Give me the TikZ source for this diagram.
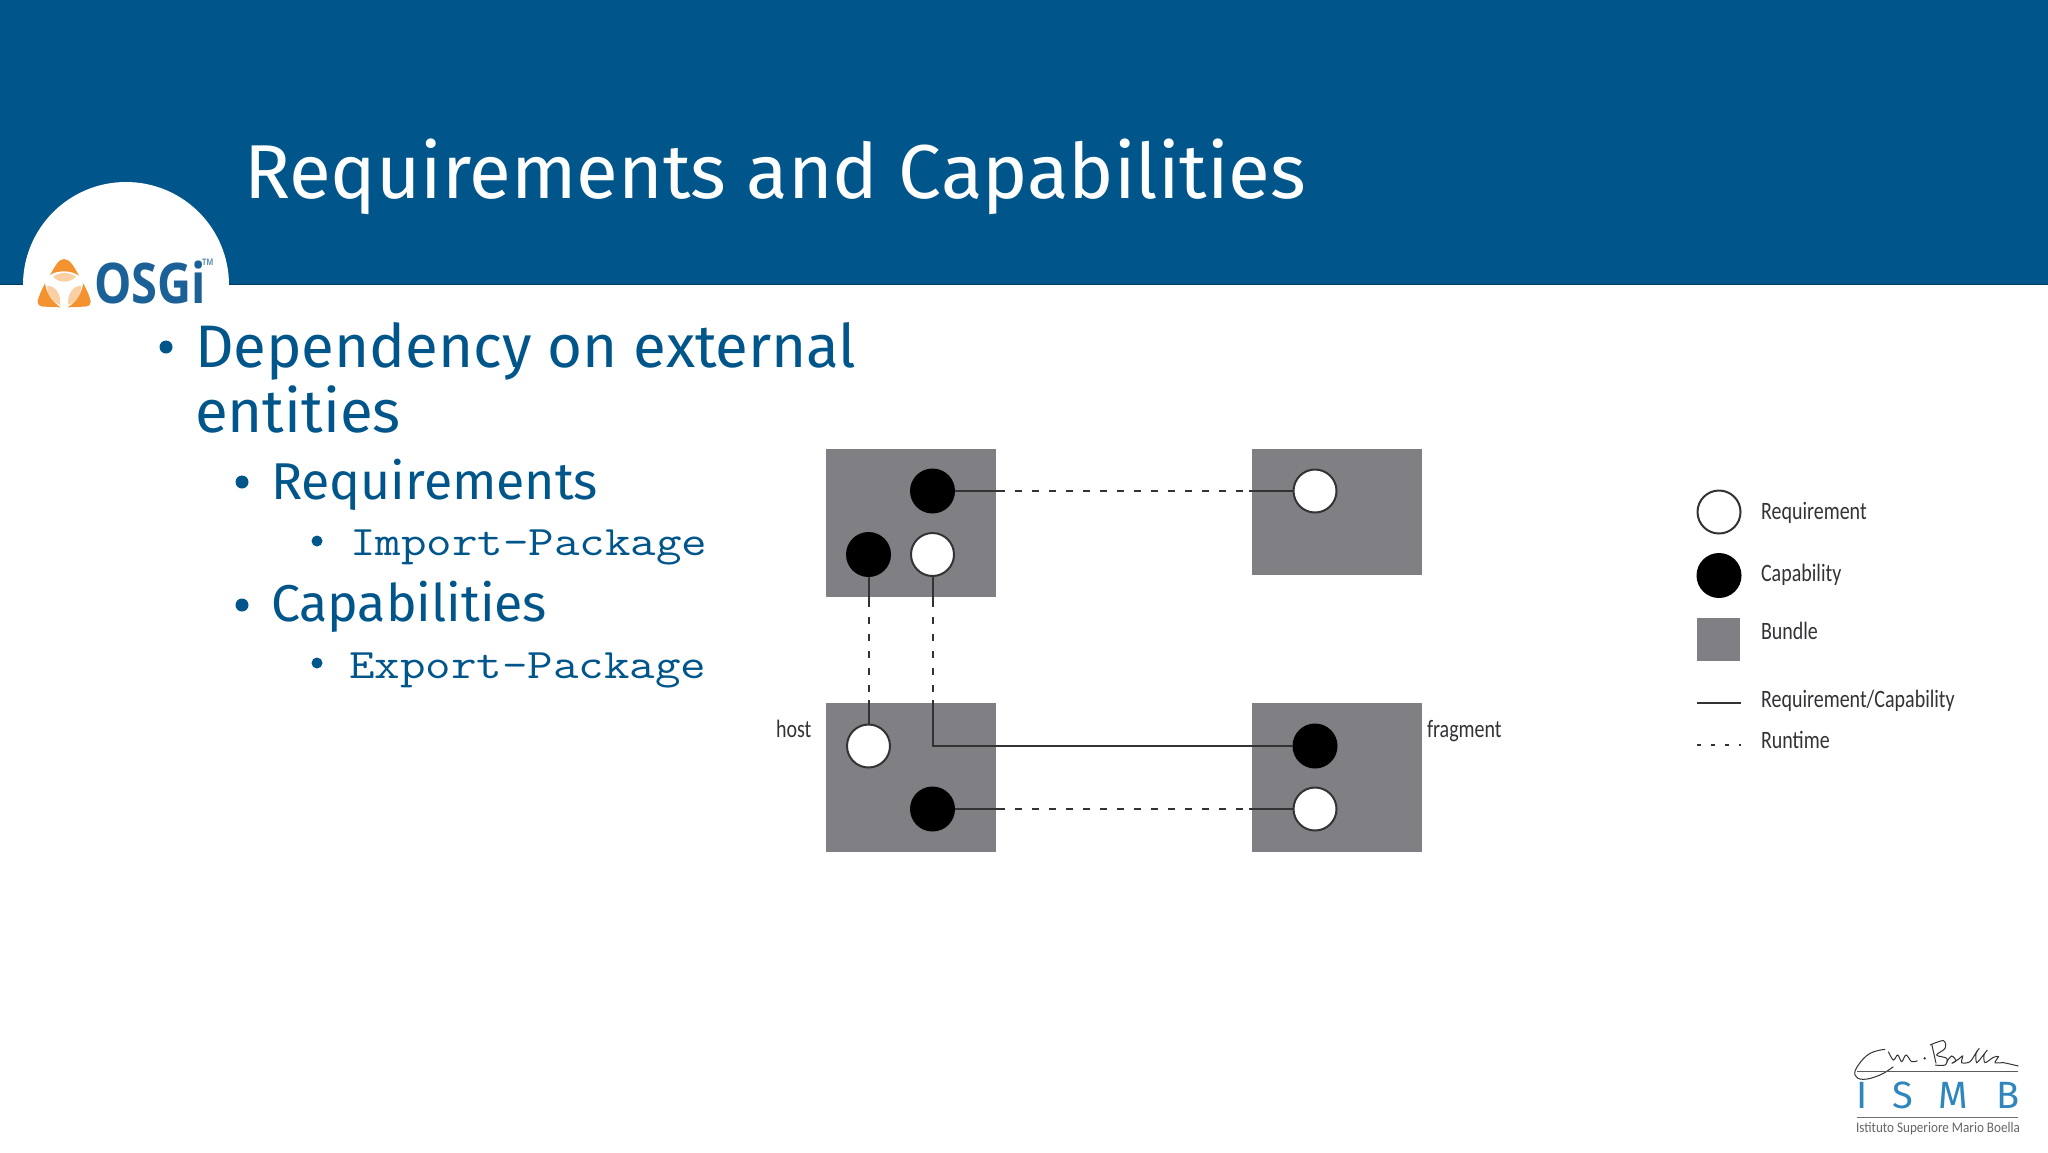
\documentclass[tikz,border=0pt]{standalone}
\usepackage{fontspec}
\setmainfont{Fira Sans}
\newfontfamily\monofam[FakeStretch=1.18]{Latin Modern Mono}
\newfontfamily\legfam[FakeStretch=0.8]{Carlito}
\newfontfamily\subfam[FakeStretch=0.9]{Carlito}
\newfontfamily\osgifam[FakeStretch=0.84]{Open Sans}
\definecolor{hdr}{HTML}{00568A}
\definecolor{boxgray}{HTML}{807F83}
\definecolor{ink}{HTML}{333336}
\definecolor{osgiblue}{HTML}{1B6198}
\definecolor{orangeA}{HTML}{F3922F}
\definecolor{orangeB}{HTML}{F9CFA3}
\definecolor{ismb}{HTML}{2F86BE}
\newcommand{\fsz}[1]{\fontsize{#1}{#1}\selectfont}
\begin{document}
\begin{tikzpicture}[x=0.5pt,y=-0.5pt,
  txt/.style={anchor=base west,inner sep=0pt,outer sep=0pt},
  titletxt/.style={txt,text=white,font=\fsz{38.2}},
  lvlA/.style={txt,text=hdr,font=\fsz{30}},
  lvlB/.style={txt,text=hdr,font=\fsz{25.9}},
  lvlC/.style={txt,text=hdr,font=\monofam\fsz{21}},
  bulletdot/.style={circle,fill=hdr,inner sep=0pt,minimum size=#1},
  bundle/.style={rectangle,fill=boxgray,anchor=north west,inner sep=0pt,outer sep=0pt},
  reqnode/.style={circle,draw=ink,line width=1pt,fill=white,inner sep=0pt,minimum size=21.5pt},
  capnode/.style={circle,draw=black,line width=1pt,fill=black,inner sep=0pt,minimum size=21.5pt},
  lbl/.style={txt,text=ink,font=\legfam\fsz{12.5}},
  solidline/.style={draw=ink,line width=1pt},
  dashline/.style={draw=ink,line width=1pt,dash pattern=on 3.5pt off 5pt},
]
\useasboundingbox (0,0) rectangle (2048,1152);
\fill[white] (0,0) rectangle (2048,1152);
% header
\fill[hdr] (0,0) rectangle (2048,284);
\draw[hdr!70!black,line width=0.5pt] (0,284) -- (2048,284);
\fill[white] (23,285) arc[start angle=180,end angle=360,radius=103] -- cycle;
\node[titletxt] (ttl) at (244,198) {Requirements and Capabilities};
% logo
\begin{scope}[shift={(0,160)},x=0.16667pt,y=-0.16667pt]
  \fill[orangeA] (150,345) .. controls (165,320) and (175,297) .. (192,297) .. controls (210,297) and (222,320) .. (237,347) .. controls (215,330) and (170,330) .. (150,345) -- cycle;
  \fill[orangeB] (160,350) .. controls (180,335) and (205,335) .. (228,350) .. controls (210,370) and (175,370) .. (160,350) -- cycle;
  \fill[orangeA] (135,370) .. controls (125,390) and (115,410) .. (113,425) .. controls (113,438) and (125,440) .. (135,440) -- (182,442) .. controls (155,425) and (140,400) .. (135,370) -- cycle;
  \fill[orangeB] (142,378) .. controls (165,375) and (185,405) .. (180,435) .. controls (155,425) and (140,400) .. (142,378) -- cycle;
  \fill[orangeA] (250,370) .. controls (260,390) and (270,410) .. (272,425) .. controls (272,438) and (260,440) .. (250,440) -- (203,442) .. controls (230,425) and (245,400) .. (250,370) -- cycle;
  \fill[orangeB] (243,378) .. controls (220,375) and (200,405) .. (205,435) .. controls (230,425) and (245,400) .. (243,378) -- cycle;
\end{scope}
\node[txt,text=osgiblue,font=\osgifam\bfseries\fsz{28}] (osgi) at (94,303) {OSGi};
\node[txt,text=osgiblue!70,font=\osgifam\bfseries\fsz{4.5}] (tm) at (202,265) {TM};
% body
\node[bulletdot=6.5pt] (b1) at (166,347) {};
\node[lvlA] (t1) at (195,367) {Dependency on external};
\node[lvlA] (t1b) at (195,432) {entities};
\node[bulletdot=6.5pt] (b2) at (242,482) {};
\node[lvlB] (t2) at (271,499) {Requirements};
\node[bulletdot=5.5pt] (b3) at (317,541) {};
\node[lvlC] (t3) at (350,555) {Import-Package};
\node[bulletdot=6.5pt] (b4) at (242,605) {};
\node[lvlB] (t4) at (271,621) {Capabilities};
\node[bulletdot=5.5pt] (b5) at (317,663) {};
\node[lvlC] (t5) at (349,678) {Export-Package};
% bundles
\node[bundle,minimum width=85pt,minimum height=74pt] (B1) at (825.5,449) {};
\node[bundle,minimum width=85pt,minimum height=63pt] (B2) at (1252,449) {};
\node[bundle,minimum width=85pt,minimum height=74.5pt] (B3) at (825.5,703) {};
\node[bundle,minimum width=85pt,minimum height=74.5pt] (B4) at (1252,703) {};
% connector stubs
\coordinate (e1) at (998,491);
\coordinate (e2) at (1249,491);
\coordinate (e3) at (868.5,600);
\coordinate (e4) at (868.5,700);
\coordinate (e5) at (932.5,600);
\coordinate (e6) at (932.5,700);
\coordinate (e7) at (998,809);
\coordinate (e8) at (1249,809);
\coordinate (k) at (932.5,746);
% ports
\node[capnode] (c1) at (932.5,491) {};
\node[capnode] (c2) at (868.5,554.5) {};
\node[reqnode] (r1) at (932.5,554.5) {};
\node[reqnode] (r2) at (1315,491) {};
\node[reqnode] (r3) at (868.5,746) {};
\node[capnode] (c3) at (932.5,809) {};
\node[capnode] (c4) at (1315,746) {};
\node[reqnode] (r4) at (1315,809) {};
\draw[solidline] (c1) -- (e1);
\draw[dashline] (e1) -- (e2);
\draw[solidline] (e2) -- (r2);
\draw[solidline] (c2) -- (e3);
\draw[dashline] (e3) -- (e4);
\draw[solidline] (e4) -- (r3);
\draw[solidline] (r1) -- (e5);
\draw[dashline] (e5) -- (e6);
\draw[solidline] (e6) -- (k) -- (c4);
\draw[solidline] (c3) -- (e7);
\draw[dashline] (e7) -- (e8);
\draw[solidline] (e8) -- (r4);
\node[lbl] (host) at (776,737) {host};
\node[lbl] (frag) at (1427,737) {fragment};
% legend
\node[reqnode] (lr) at (1719,512) {};
\node[capnode] (lc) at (1719,575.5) {};
\node[bundle,minimum width=21.5pt,minimum height=21.5pt] (lb) at (1697,618) {};
\coordinate (l1a) at (1697,703);
\coordinate (l1b) at (1741,703);
\coordinate (l2a) at (1697,745);
\coordinate (l2b) at (1741,745);
\draw[solidline] (l1a) -- (l1b);
\draw[draw=ink,line width=.8pt,dash pattern=on 2.2pt off 4.8pt] (l2a) -- (l2b);
\node[lbl] (t6) at (1761,519) {Requirement};
\node[lbl] (t7) at (1761,581) {Capability};
\node[lbl] (t8) at (1761,639) {Bundle};
\node[lbl] (t9) at (1761,707) {Requirement/Capability};
\node[lbl] (t10) at (1761,748) {Runtime};
% ISMB logo
\begin{scope}[shift={(1830,1020)},x=0.16667pt,y=-0.16667pt]
  \draw[ink,line width=0.5pt] plot[smooth,tension=.7] coordinates {(165,88) (120,100) (85,135) (75,165) (100,178) (150,165) (190,140)};
  \draw[ink,line width=0.5pt] plot[smooth,tension=.6] coordinates {(175,95) (190,120) (203,105) (215,125) (228,105) (245,125) (262,122)};
  \fill[ink] (284,115) circle[radius=4];
  \draw[ink,line width=0.5pt] (305,72) -- (318,130);
  \draw[ink,line width=0.5pt] plot[smooth,tension=.6] coordinates {(300,75) (340,62) (345,85) (320,105) (350,115) (345,135) (315,135)};
  \draw[ink,line width=0.5pt] plot[smooth,tension=.5] coordinates {(350,125) (365,108) (378,122) (365,130) (385,118) (398,108) (395,128) (420,125) (440,95) (448,85) (438,100) (440,128) (460,105) (472,90) (462,105) (465,128) (490,112) (505,110) (495,128) (520,128) (565,138)};
  \draw[ink!80,line width=0.7pt] (80,155) -- (565,155);
  \draw[ink!70,line width=0.7pt] (80,292) -- (565,292);
\end{scope}
\node[txt,text=ismb,font=\fsz{19}] (iI) at (1856.5,1108) {I};
\node[txt,text=ismb,font=\fsz{19}] (iS) at (1892,1108) {S};
\node[txt,text=ismb,font=\fsz{19}] (iM) at (1938.5,1108) {M};
\node[txt,text=ismb,font=\fsz{19}] (iB) at (1996,1108) {B};
\node[txt,text=ink!75,font=\subfam\fsz{7.3}] (isub) at (1856,1132) {Istituto Superiore Mario Boella};
\end{tikzpicture}
\end{document}
